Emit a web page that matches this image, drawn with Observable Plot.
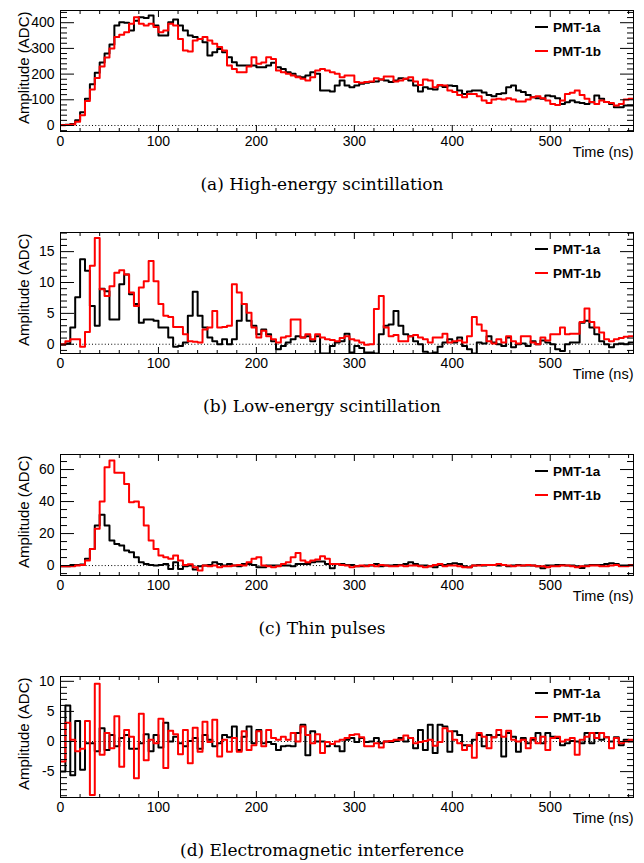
<!DOCTYPE html>
<html><head><meta charset="utf-8">
<script src="https://cdn.jsdelivr.net/npm/d3@7"></script>
<script src="https://cdn.jsdelivr.net/npm/@observablehq/plot@0.6"></script>
<style>
body{margin:0;background:#fff;width:644px;height:863px;overflow:hidden;font-family:"Liberation Sans",Arial,sans-serif;color:#000}
.block{position:relative;width:644px;height:222px}
.block svg{position:absolute;left:0;top:0}
.cap{position:absolute;left:0;width:644px;text-align:center;top:173px;font-family:"DejaVu Serif",serif;font-size:17px;line-height:22px}
.leg{position:absolute;left:535px;font-weight:bold;font-size:13.5px;line-height:16px;height:16px;white-space:nowrap}
.leg span.sw{display:inline-block;width:13px;height:0;border-top:2px solid;vertical-align:middle;margin-right:5px;position:relative;top:-1px}
</style></head><body><div id="root"></div>
<script>
const binWidth = 5;
const timeTicks = [0, 100, 200, 300, 400, 500];
const seriesNames = ["PMT-1a", "PMT-1b"];
const captions = ["(a) High-energy scintillation", "(b) Low-energy scintillation", "(c) Thin pulses", "(d) Electromagnetic interference"];

const hiBlack = [2,3,6,20,52,104,160,205,245,280,315,389,402,400,370,408,421,418,428,389,350,350,402,412,389,370,350,344,337,324,272,285,298,285,266,246,233,233,
233,233,227,227,233,244,227,220,207,201,191,188,195,207,201,136,136,132,156,175,156,149,156,162,166,169,171,179,175,169,175,184,182,175,156,132,149,143,140,156,
150,156,154,136,123,132,136,136,128,119,114,123,125,149,156,136,130,119,110,106,104,117,114,106,84,90,97,90,88,84,90,117,104,91,84,71,71,78,78];
const hiRed = [1,2,4,15,40,95,140,185,230,265,300,344,353,363,396,421,396,389,396,383,363,370,396,389,337,292,288,331,337,344,331,318,305,292,233,220,207,207,
230,266,240,245,266,259,214,207,201,195,188,182,175,188,214,220,214,207,201,188,195,195,169,166,169,171,184,179,191,191,171,175,182,188,171,158,179,175,149,158,
156,136,130,119,110,123,123,114,97,88,101,104,101,106,101,93,93,101,110,114,106,97,84,80,97,123,127,136,119,104,91,84,97,91,88,78,84,101,104];

const loBlack = [-0.1,0.1,2.7,7.6,13.75,11.9,6.2,3.0,9.0,8.6,4.0,4.0,9.7,11.3,8.1,6.5,3.5,4.0,4.0,3.8,2.7,2.7,1.1,-0.4,-0.3,0.3,4.6,8.5,4.6,2.7,1.1,0.5,0,0.8,0,0.8,3.8,6.5,
3.8,3.0,1.6,2.4,1.6,0.5,-0.8,-0.3,0.3,0.8,1.3,1.1,1.3,0.5,1.3,-1.5,-1.5,-0.3,0.3,0.5,1.7,-1.35,-0.3,-0.6,-1.35,-1.35,-1.5,1.6,3.0,3.2,5.4,3.0,1.6,1.3,0.5,0,-1.2,-1.5,-1.35,-0.4,
0.3,0.8,0.3,1.1,-0.3,-0.8,-1.5,0.3,0.1,1.3,0.3,0,-0.3,1.1,-0.5,0,0.1,-0.3,0.5,0,0.6,0.3,0,-0.8,-1.1,0,0.3,0.3,3.5,3.8,2.7,1.6,0.5,0,-0.5,0,0.1,0,0.3];
const loRed = [0,0.5,0.8,0.8,-0.4,2.0,12.7,17.2,8.9,7.8,9.4,11.6,12.0,11.3,8.4,6.2,9.2,10.2,13.5,10.2,6.5,4.6,4.4,2.8,2.8,1.6,0.5,0.4,0.3,2.4,2.7,5.4,2.7,2.8,3.0,9.7,8.4,6.5,
5.1,2.7,1.1,2.2,1.3,0.8,0.3,1.1,1.3,4.0,4.0,1.1,1.6,0.8,1.6,1.1,0.8,0.7,0.5,1.0,1.3,0.8,0.6,0.3,-0.1,0.0,5.7,7.8,2.7,1.3,1.5,0.5,0.5,1.3,1.5,1.1,0.8,0.3,1.1,1.1,
1.7,0.3,0.5,0.6,0.3,1.3,4.4,3.2,2.2,0.5,0.1,0.8,0.3,1.3,0.5,0.1,1.3,1.3,0.3,0,1.1,0.6,1.6,1.6,2.7,1.6,1.7,1.7,3.6,5.8,3.6,2.7,1.9,0.8,0.5,0.8,1.0,1.2,1.3];

const thinBlack = [-0.4,-0.4,0.4,0.4,0.6,4.2,10.4,25,31.7,25,15.6,13.5,12.5,9.4,8.3,5.2,2.1,1.0,0.4,0,0.4,1.0,-2.1,2.1,-2.1,-0.4,0,-2.5,-0.4,0,0.4,2.1,1.0,0,1.0,0,-0.4,1.0,
1.0,0.4,-1.0,-1.0,0,0,0,0,0,-0.4,1.0,1.0,1.0,2.1,2.5,2.5,1.0,-1.7,1.0,1.0,0.4,0.4,-0.4,-0.4,0,0,1.0,-0.4,0,0,0.4,0.4,1.0,2.1,1.0,0,0,-0.4,-1.0,0.4,
0.4,1.0,1.5,1.0,-0.4,-1.0,0,0.4,0,0.4,0.4,0,0.4,-0.4,0,0.4,0,0,0,-0.4,-1.7,0,0,0.4,0.4,0,0,-0.4,-1.5,0,0.4,0.4,0.4,1.0,1.5,1.0,0,0,0.4];
const thinRed = [-0.4,-0.4,-0.4,0,0.4,3.1,10.4,23,40,61.5,65.6,58,58,51,39.6,40,36.5,25,15.6,10.4,6.3,5.2,4.2,6.3,3.1,0.4,0.8,-1.0,-3.1,0,-0.4,0,-1.0,-0.4,-0.4,0,0.4,0,
2.1,4.2,5.2,0,-0.4,-1.0,-0.4,1.0,2.1,5.2,7.9,3.1,2.1,3.1,3.8,5.8,4.2,1.0,1.0,0.4,0,-1.0,-0.4,0,-0.4,0.4,-0.4,0.4,0,-0.4,-0.4,0,-0.4,0,0,-0.4,-1.0,-0.4,0.4,1.0,
-0.4,0,0,-0.4,-1.0,-1.0,0,0,0.4,0.4,0.4,1.0,0.4,0,-0.4,0,0,0.4,0,-0.4,-0.4,-1.0,-0.4,-0.4,0,0,-0.4,-1.0,-0.4,-0.4,0,0,-0.4,-0.4,0,0.4,-0.4,-0.4,0];

const emiBlack = [-5,6,-5.6,3.4,-4.7,-0.3,-0.3,-1.6,2.2,-1.4,1.1,-0.8,0.6,1.1,-1.2,-1.2,-0.3,1.2,-1.6,1.1,-1.0,3.1,0,0.8,-0.3,-0.8,0.1,0.6,-1.2,1.1,0.3,-0.8,-0.3,1.1,0.7,2.5,-1.4,0.8,
2.5,-0.3,1.9,-0.3,-0.1,-0.4,-1.4,-0.8,-0.7,-0.8,1.4,2.8,-2.3,1.7,0,0,-0.8,-0.4,-0.8,-1.6,0.3,0.6,-0.1,0.6,-0.1,0,0.6,-0.3,0,-0.1,0.1,0.6,0,0.6,-1.1,1.9,-1.4,2.8,-1.9,2.8,
2.5,-1.7,1.7,1.1,-0.6,-0.7,0.3,1.1,-0.8,1.1,0.7,1.1,-2.5,1.4,0.8,-1.7,0.6,-0.3,0.3,1.4,-0.3,1.4,0.8,0.6,-0.6,-0.3,0.1,0,-0.3,1.4,-0.3,1.4,0.3,0.7,0,0.7,-0.6,0.3,0];
const emiRed = [-3.3,3.1,0.3,-1.6,-1.2,3.4,-8.9,9.6,-2.2,1.4,-1.1,4.2,-4.2,1.9,0.8,-6.1,4.6,-3.1,0.3,-0.3,3.8,-4.4,1.8,1.2,-2.1,1.9,-3.6,2.3,-1.7,3.3,-0.1,3.6,-2.5,0.3,-1.7,0.6,-1.7,1.7,
-1.4,-0.6,1.7,-0.8,1.9,0.6,0.3,0.8,0.3,1.4,0,2.5,1.1,-0.3,1.2,-1.9,-0.1,-0.4,0,0.3,0.6,1.1,1.2,0.7,-0.8,-0.8,-0.3,-1.0,0,0.1,0.3,0.3,1.0,0.6,-0.3,-0.1,0.1,0.3,-0.7,-0.1,
2.2,1.7,0.3,-0.3,-1.4,-0.6,-2.7,1.4,0.8,-1.1,0.7,1.9,0.8,1.8,0.3,0,0.3,-1.1,0.6,-0.3,0.8,-1.4,0.6,0.8,0,0.3,0.6,-2.2,0.3,0.8,1.4,0.6,1.4,0.7,-1.1,0.6,-0.3,0,0.3];

const yLabelsA = [0, 100, 200, 300, 400];
const yLabelsB = [0, 5, 10, 15];
const yLabelsC = [0, 20, 40, 60];
const yLabelsD = [-5, 0, 5, 10];

const panels = [
  {black: hiBlack, red: hiRed, domain: [-23.4, 447.5], labels: yLabelsA, major: 100, minor: 20},
  {black: loBlack, red: loRed, domain: [-1.5, 18.1], labels: yLabelsB, major: 5, minor: 1},
  {black: thinBlack, red: thinRed, domain: [-6.2, 69.4], labels: yLabelsC, major: 20, minor: 5},
  {black: emiBlack, red: emiRed, domain: [-9.3, 10.8], labels: yLabelsD, major: 5, minor: 1}
];

const xDomain = [0, 117 * binWidth];
function steps(values) {
  const pts = values.map((v, i) => ({t: i * binWidth, v}));
  pts.push({t: values.length * binWidth, v: values[values.length - 1]});
  return pts;
}
function grid(domain, step) {
  const lo = Math.ceil(domain[0] / step - 1e-9) * step, out = [];
  for (let v = lo; v <= domain[1] + 1e-9; v += step) out.push(+v.toFixed(6));
  return out;
}
const xMajor = grid(xDomain, 100), xMinor = grid(xDomain, 20).filter(v => v % 100 !== 0);
const root = document.getElementById("root");

panels.forEach((p, k) => {
  const yMajor = grid(p.domain, p.major);
  const yMinor = grid(p.domain, p.minor).filter(v => Math.abs(v / p.major - Math.round(v / p.major)) > 1e-6);
  const tickAx = (o) => ({fill: "none", label: null, stroke: "#000", ...o});
  const chart = Plot.plot({
    width: 644, height: 166,
    marginLeft: 60, marginRight: 11, marginTop: 10, marginBottom: 35,
    style: {fontFamily: "'Liberation Sans', Arial, sans-serif", fontSize: "14px", color: "#000", background: "transparent", overflow: "visible"},
    x: {domain: xDomain},
    y: {domain: p.domain},
    marks: [
      Plot.ruleY([0], {stroke: "#000", strokeWidth: 1, strokeDasharray: "1,2.2"}),
      Plot.line(steps(p.black), {x: "t", y: "v", curve: "step-after", stroke: "#000", strokeWidth: 2, clip: true}),
      Plot.line(steps(p.red), {x: "t", y: "v", curve: "step-after", stroke: "#ff0000", strokeWidth: 2, clip: true}),
      Plot.axisX(tickAx({ticks: xMajor, tickSize: -6})),
      Plot.axisX(tickAx({ticks: xMinor, tickSize: -3})),
      Plot.axisX(tickAx({anchor: "top", ticks: xMajor, tickSize: -6})),
      Plot.axisX(tickAx({anchor: "top", ticks: xMinor, tickSize: -3})),
      Plot.axisY(tickAx({ticks: yMajor, tickSize: -14})),
      Plot.axisY(tickAx({ticks: yMinor, tickSize: -7})),
      Plot.axisY(tickAx({anchor: "right", ticks: yMajor, tickSize: -14})),
      Plot.axisY(tickAx({anchor: "right", ticks: yMinor, tickSize: -7})),
      Plot.axisX({ticks: timeTicks, tickSize: 0, tickPadding: 5, label: null, tickFormat: d => String(d)}),
      Plot.axisY({ticks: p.labels, tickSize: 0, tickPadding: 6, label: null, tickFormat: d => String(d)}),
      Plot.frame({stroke: "#000", strokeWidth: 1}),
      Plot.text(["Amplitude (ADC)"], {frameAnchor: "top-left", rotate: -90, textAnchor: "end", dx: -42, dy: 1, fontSize: 15}),
      Plot.text(["Time (ns)"], {frameAnchor: "bottom-right", textAnchor: "end", dy: 25, fontSize: 14.5})
    ]
  });
  const block = document.createElement("div");
  block.className = "block";
  block.appendChild(chart);
  const cap = document.createElement("div");
  cap.className = "cap";
  cap.textContent = captions[k];
  block.appendChild(cap);
  [["#000", 20], ["#ff0000", 44]].forEach(([c, top], j) => {
    const lg = document.createElement("div");
    lg.className = "leg";
    lg.style.top = top + "px";
    const sw = document.createElement("span");
    sw.className = "sw";
    sw.style.borderColor = c;
    lg.appendChild(sw);
    lg.appendChild(document.createTextNode(seriesNames[j]));
    block.appendChild(lg);
  });
  root.appendChild(block);
});
</script>
</body></html>
